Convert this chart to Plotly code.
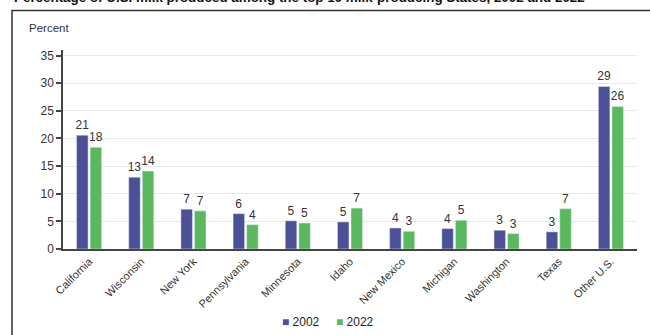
import plotly.graph_objects as go

states = ["California", "Wisconsin", "New York", "Pennsylvania", "Minnesota", "Idaho",
          "New Mexico", "Michigan", "Washington", "Texas", "Other U.S."]
v2002 = [20.6, 13.0, 7.2, 6.4, 5.1, 4.9, 3.8, 3.7, 3.4, 3.1, 29.4]
v2022 = [18.4, 14.1, 6.9, 4.4, 4.7, 7.4, 3.2, 5.2, 2.8, 7.3, 25.8]
lab2002 = ["21", "13", "7", "6", "5", "5", "4", "4", "3", "3", "29"]
lab2022 = ["18", "14", "7", "4", "5", "7", "3", "5", "3", "7", "26"]
y_ticks = [0, 5, 10, 15, 20, 25, 30, 35]
series_names = ["2002", "2022"]
colors = ["#4C5096", "#5CB85F"]

FONT = "Liberation Sans, Arial, Helvetica, sans-serif"
W, H = 650, 335
ML, MR, MT, MB = 63, 13, 49.5, 86
PW = W - ML - MR
PH = H - MT - MB

def px_x(x):
    return (x - ML) / PW

def px_y(y):
    return (H - MB - y) / PH

fig = go.Figure()
for name, vals, labs, col in [(series_names[0], v2002, lab2002, colors[0]),
                              (series_names[1], v2022, lab2022, colors[1])]:
    fig.add_trace(go.Bar(name=name, x=states, y=vals, text=labs,
                         textposition="outside", marker_color=col,
                         constraintext="none",
                         textfont=dict(size=12, color="#333333", family=FONT),
                         cliponaxis=False))

legend_text = ("<span style='color:%s'>■</span> %s     <span style='color:%s'>■</span> %s"
               % (colors[0], series_names[0], colors[1], series_names[1]))

fig.update_layout(
    width=W, height=H,
    margin=dict(l=ML, r=MR, t=MT, b=MB, autoexpand=False),
    paper_bgcolor="white", plot_bgcolor="white",
    font=dict(family=FONT, size=11, color="#333333"),
    barmode="group", bargap=0.48, bargroupgap=0.15,
    uniformtext=dict(mode=False),
    showlegend=False,
    xaxis=dict(range=[-0.5, 10.5], tickangle=-45, showline=True, automargin=False,
               linecolor="#444444", linewidth=1.5, ticks="",
               tickfont=dict(size=11, color="#333333"), showgrid=False),
    yaxis=dict(range=[0, 36], tickvals=y_ticks, showline=True, automargin=False,
               linecolor="#444444", linewidth=1.5, ticks="outside",
               ticklen=5, tickcolor="#444444", tickwidth=1.5,
               gridcolor="#E8E8E8", gridwidth=1, zeroline=False,
               tickfont=dict(size=12, color="#333333")),
    shapes=[dict(type="rect", xref="paper", yref="paper",
                 x0=px_x(12), x1=px_x(700), y0=px_y(380), y1=px_y(10),
                 line=dict(color="#333333", width=1.5), fillcolor="rgba(0,0,0,0)",
                 layer="above")],
    annotations=[
        dict(text="Percent", xref="paper", yref="paper", x=px_x(27), y=px_y(27),
             xanchor="left", yanchor="middle", showarrow=False,
             font=dict(size=11.5, color="#333333", family=FONT)),
        dict(text="<b>Percentage of U.S. milk produced among the top 10 milk-producing States, 2002 and 2022</b>",
             xref="paper", yref="paper", x=px_x(12), y=px_y(-3),
             xanchor="left", yanchor="middle", showarrow=False,
             font=dict(size=13.4, color="#111111", family=FONT)),
        dict(text=legend_text, xref="paper", yref="paper", x=px_x(328), y=px_y(322),
             xanchor="center", yanchor="middle", showarrow=False,
             font=dict(size=12, color="#222222", family=FONT)),
    ],
)

fig.write_html("out.html")
